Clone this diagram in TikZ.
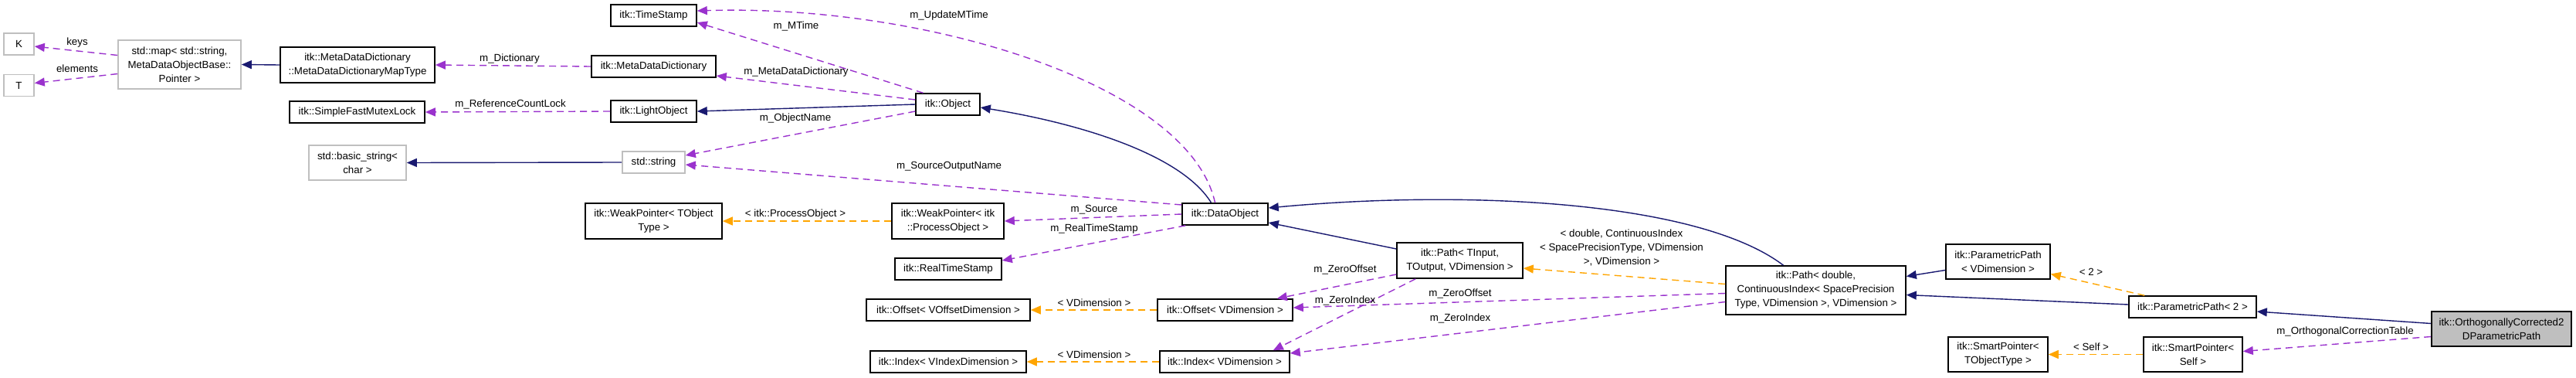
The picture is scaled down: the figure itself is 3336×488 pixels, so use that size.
\documentclass[tikz,border=0pt]{standalone}
\usepackage{fontspec}
\setmainfont{Liberation Sans}
\usetikzlibrary{positioning,calc,arrows.meta}

\definecolor{navy}{HTML}{191970}
\definecolor{orchid}{HTML}{9A32CD}
\definecolor{tmplorange}{HTML}{FFA500}
\definecolor{extgray}{HTML}{BFBFBF}

\begin{document}
\begin{tikzpicture}[
            x=1pt, y=-1pt,
            >={Triangle[length=13pt,width=11pt]},
            font=\fontsize{13.3}{18}\selectfont,
            box/.style={draw, rectangle, align=center, line width=1.6pt, minimum height=28pt, inner sep=0pt},
            ext/.style={box, draw=extgray},
            lbl/.style={inner sep=0pt, align=center},
            inh/.style={->, color=navy, line width=1.4pt},
            mem/.style={->, color=orchid, line width=1.4pt, dash pattern=on 9pt off 6pt},
            tpl/.style={->, color=tmplorange, line width=1.4pt, dash pattern=on 9pt off 6pt}
        ]
        \useasboundingbox (0,0) rectangle (3336,488);

        \node[ext, minimum width=39pt] (K) at (24.5,57) {K};
        \node[ext, minimum width=39pt] (T) at (24.5,110.5) {T};
        \node[ext, minimum width=159pt, minimum height=63pt] (Map) at (232.5,83.5) {std::map< std::string,\\MetaDataObjectBase::\\Pointer >};
        \node[box, minimum width=200pt, minimum height=46pt] (MapT) at (463,84) {itk::MetaDataDictionary\\::MetaDataDictionaryMapType};
        \node[box, minimum width=175pt] (Mutex) at (462.5,145) {itk::SimpleFastMutexLock};
        \node[ext, minimum width=126pt, minimum height=45pt] (BStr) at (463,210.5) {std::basic\_string<\\char >};
        \node[box, minimum width=111pt] (Stamp) at (846.5,20) {itk::TimeStamp};
        \node[box, minimum width=161pt] (Dict) at (846.5,86) {itk::MetaDataDictionary};
        \node[box, minimum width=111pt] (Light) at (846.5,144) {itk::LightObject};
        \node[ext, minimum width=81pt] (Str) at (846.5,210) {std::string};
        \node[box, minimum width=177pt, minimum height=46pt] (WPT) at (846.5,286) {itk::WeakPointer< TObject\\Type >};
        \node[box, minimum width=83pt] (Obj) at (1227.5,135) {itk::Object};
        \node[box, minimum width=145pt, minimum height=46pt] (WPP) at (1227.5,286) {itk::WeakPointer< itk\\::ProcessObject >};
        \node[box, minimum width=138pt] (RTS) at (1228,348) {itk::RealTimeStamp};
        \node[box, minimum width=212pt] (OffV) at (1228,401) {itk::Offset< VOffsetDimension >};
        \node[box, minimum width=202pt] (IdxV) at (1228,468) {itk::Index< VIndexDimension >};
        \node[box, minimum width=111pt] (Data) at (1586.5,277) {itk::DataObject};
        \node[box, minimum width=175pt] (Off) at (1586.5,401) {itk::Offset< VDimension >};
        \node[box, minimum width=168pt] (Idx) at (1586,468) {itk::Index< VDimension >};
        \node[box, minimum width=163pt, minimum height=46pt] (PathT) at (1890.5,337) {itk::Path< TInput,\\TOutput, VDimension >};
        \node[box, minimum width=233pt, minimum height=63pt] (PathD) at (2351.5,375.5) {itk::Path< double,\\ContinuousIndex< SpacePrecision\\Type, VDimension >, VDimension >};
        \node[box, minimum width=135pt, minimum height=45pt] (PPV) at (2587.5,338.5) {itk::ParametricPath\\< VDimension >};
        \node[box, minimum width=165pt] (PP2) at (2839.5,397) {itk::ParametricPath< 2 >};
        \node[box, minimum width=129pt, minimum height=45pt] (SPT) at (2587.5,458.5) {itk::SmartPointer<\\TObjectType >};
        \node[box, minimum width=128pt, minimum height=45pt] (SPS) at (2840,458.5) {itk::SmartPointer<\\Self >};
        \node[box, fill=extgray, minimum width=181pt, minimum height=45pt] (OCP) at (3239.5,425.5) {itk::OrthogonallyCorrected2\\DParametricPath};

        \draw[mem] ($(Map.west)+(0,-12)$) -- ($(K.east)+(0,3)$);
        \draw[mem] ($(Map.west)+(0,12)$) -- ($(T.east)+(0,-3)$);
        \draw[inh] (MapT.west) -- (Map.east);
        \draw[mem] (Dict.west) -- (MapT.east);
        \draw[mem] (Light.west) -- (Mutex.east);
        \draw[inh] (Str.west) -- (BStr.east);
        \draw[mem] ($(Obj.north)+(-32,0)$) -- ($(Stamp.east)+(0,9)$);
        \draw[mem] ($(Obj.west)+(0,-6)$) -- ($(Dict.east)+(0,12)$);
        \draw[inh] (Obj.west) -- (Light.east);
        \draw[mem] ($(Obj.west)+(0,9)$) -- ($(Str.east)+(0,-9)$);
        \draw[mem] ($(Data.north)+(-13,0)$) .. controls (1540,110) and (1200,5) .. ($(Stamp.east)+(0,-6)$);
        \draw[inh] ($(Data.north)+(-18,0)$) .. controls (1530,200) and (1400,160) .. ($(Obj.east)+(0,4)$);
        \draw[mem] ($(Data.west)+(0,-12)$) -- ($(Str.east)+(0,3)$);
        \draw[mem] (Data.west) -- (WPP.east);
        \draw[mem] ($(Data.south west)+(5,0)$) -- ($(RTS.east)+(0,-11)$);
        \draw[tpl] (WPP.west) -- (WPT.east);
        \draw[inh] ($(PathT.west)+(0,-15)$) -- ($(Data.east)+(0,11)$);
        \draw[inh] ($(PathD.north)+(-42,0)$) .. controls (2200,260) and (1900,245) .. ($(Data.east)+(0,-8)$);
        \draw[tpl] ($(PathD.west)+(0,-8)$) -- ($(PathT.east)+(0,10)$);
        \draw[mem] ($(PathT.west)+(0,18)$) -- ($(Off.north east)+(-21,0)$);
        \draw[mem] ($(PathT.south west)+(25,0)$) -- ($(Idx.north east)+(-22,0)$);
        \draw[mem] ($(PathD.west)+(0,4)$) -- ($(Off.east)+(0,-3)$);
        \draw[mem] ($(PathD.west)+(0,15)$) -- ($(Idx.east)+(0,-11)$);
        \draw[tpl] (Off.west) -- (OffV.east);
        \draw[tpl] (Idx.west) -- (IdxV.east);
        \draw[inh] ($(PPV.west)+(0,11)$) -- ($(PathD.east)+(0,-18)$);
        \draw[inh] ($(PP2.west)+(0,-3)$) -- ($(PathD.east)+(0,6)$);
        \draw[tpl] ($(PP2.north west)+(21,0)$) -- ($(PPV.east)+(0,16)$);
        \draw[inh] ($(OCP.west)+(0,-7)$) -- ($(PP2.east)+(0,6)$);
        \draw[mem] ($(OCP.west)+(0,10)$) -- ($(SPS.east)+(0,-4)$);
        \draw[tpl] (SPS.west) -- (SPT.east);

        \node[lbl] (lkeys) at (100,55) {keys};
        \node[lbl] (lelem) at (100,89) {elements};
        \node[lbl] (ldict) at (660,76) {m\_Dictionary};
        \node[lbl] (lmutex) at (661,135) {m\_ReferenceCountLock};
        \node[lbl] (lmtime) at (1031,34) {m\_MTime};
        \node[lbl] (lupd) at (1229,20) {m\_UpdateMTime};
        \node[lbl] (lmdd) at (1031,93) {m\_MetaDataDictionary};
        \node[lbl] (lname) at (1030,153) {m\_ObjectName};
        \node[lbl] (lsrcname) at (1229,215) {m\_SourceOutputName};
        \node[lbl] (lproc) at (1030,277) {< itk::ProcessObject >};
        \node[lbl] (lsrc) at (1417,271) {m\_Source};
        \node[lbl] (lrts) at (1417,296) {m\_RealTimeStamp};
        \node[lbl] (loffdim) at (1417,392) {< VDimension >};
        \node[lbl] (lidxdim) at (1417,459) {< VDimension >};
        \node[lbl] (lzoff) at (1742,349) {m\_ZeroOffset};
        \node[lbl] (lzidx) at (1742,389) {m\_ZeroIndex};
        \node[lbl] (lzoff2) at (1891,380) {m\_ZeroOffset};
        \node[lbl] (lzidx2) at (1891,412) {m\_ZeroIndex};
        \node[lbl] (lpath) at (2100,321) {< double, ContinuousIndex\\< SpacePrecisionType, VDimension\\>, VDimension >};
        \node[lbl] (ltwo) at (2708,352) {< 2 >};
        \node[lbl] (lself) at (2708,449) {< Self >};
        \node[lbl] (ltable) at (3037,429) {m\_OrthogonalCorrectionTable};
    \end{tikzpicture}
\end{document}
